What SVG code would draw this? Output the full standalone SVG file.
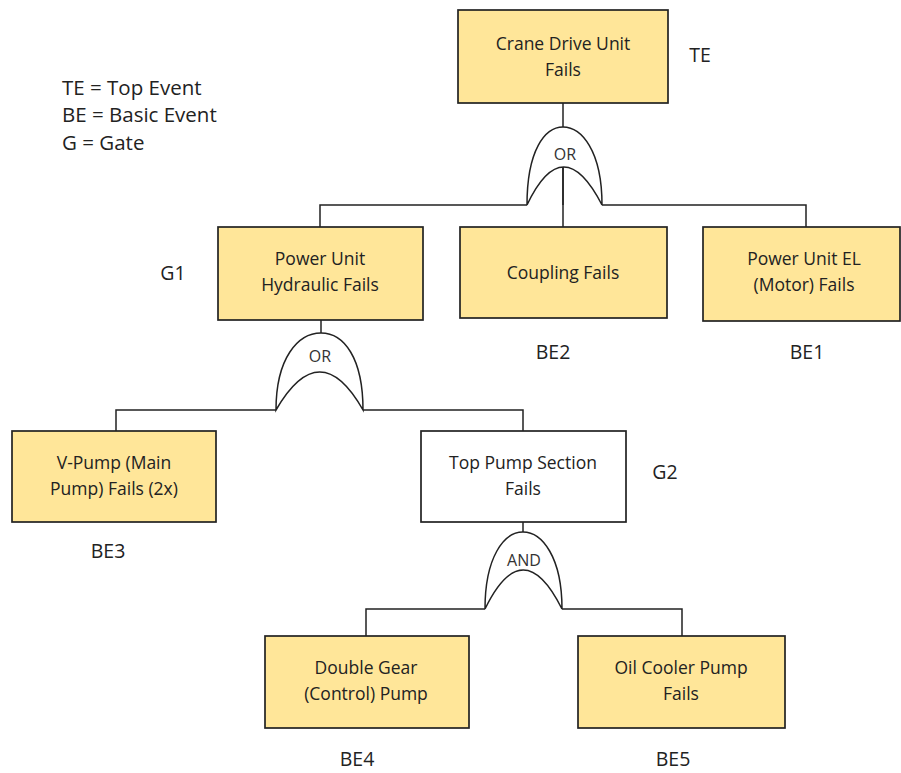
<svg xmlns="http://www.w3.org/2000/svg" width="901" height="773" viewBox="0 0 901 773">
<style>
.be{fill:#FFE699;stroke:#222;stroke-width:1.7}
.wh{fill:#fff;stroke:#222;stroke-width:1.7}
.t{font-family:"Open Sans","Liberation Sans",sans-serif;font-size:17.5px;fill:#222;text-anchor:middle}
.lb{font-family:"Open Sans","Liberation Sans",sans-serif;font-size:20.5px;fill:#222}
.id{font-family:"Open Sans","Liberation Sans",sans-serif;font-size:19.5px;fill:#222;text-anchor:middle}
.g{font-family:"Open Sans","Liberation Sans",sans-serif;font-size:16px;fill:#333;text-anchor:middle}
.ln{fill:none;stroke:#222;stroke-width:1.5}
.gate{fill:#fff;stroke:#222;stroke-width:1.5}
</style>
<rect width="901" height="773" fill="#fff"/>
<g id="legend">
<text class="lb" x="62" y="95">TE = Top Event</text>
<text class="lb" x="62" y="122">BE = Basic Event</text>
<text class="lb" x="62" y="150">G = Gate</text>
</g>
<g id="connectors">
<line class="ln" x1="563" y1="103" x2="563" y2="127"/>
<line class="ln" x1="563" y1="167" x2="563" y2="227"/>
<polyline class="ln" points="320,227 320,205 527,205"/>
<polyline class="ln" points="602,205 806,205 806,227"/>
<line class="ln" x1="321" y1="320" x2="321" y2="333"/>
<polyline class="ln" points="116,431 116,410 276,410"/>
<polyline class="ln" points="363,410 523,410 523,431"/>
<line class="ln" x1="523" y1="522" x2="523" y2="532"/>
<polyline class="ln" points="366,636 366,609 485,609"/>
<polyline class="ln" points="562,609 682,609 682,636"/>
</g>
<g id="gate-or-top">
<path class="gate" d="M527,205 C527,150 545,127 563,127 C581,127 602,150 602,205 Q563,129 527,205 Z"/>
<line class="ln" x1="563" y1="167" x2="563" y2="205"/>
<text class="g" x="565" y="160">OR</text>
</g>
<g id="gate-or-g1">
<path class="gate" d="M276,410 C276,358 298,333 321,333 C344,333 363,358 363,410 Q320,334 276,410 Z"/>
<text class="g" x="320" y="362">OR</text>
</g>
<g id="gate-and-g2">
<path class="gate" d="M485,609 C485,557 504,532 523,532 C542,532 562,557 562,609 Q523,531 485,609 Z"/>
<text class="g" x="524" y="566">AND</text>
</g>
<g id="TE">
<rect class="be" x="458" y="10" width="210" height="93"/>
<text class="t" x="563" y="50">Crane Drive Unit</text>
<text class="t" x="563" y="76">Fails</text>
<text class="id" x="700" y="62">TE</text>
</g>
<g id="G1">
<rect class="be" x="218" y="227" width="205" height="93"/>
<text class="t" x="320" y="265">Power Unit</text>
<text class="t" x="320" y="291">Hydraulic Fails</text>
<text class="id" x="173" y="280">G1</text>
</g>
<g id="BE2">
<rect class="be" x="460" y="227" width="207" height="91"/>
<text class="t" x="563" y="279">Coupling Fails</text>
<text class="id" x="553" y="359">BE2</text>
</g>
<g id="BE1">
<rect class="be" x="703" y="227" width="197" height="94"/>
<text class="t" x="804" y="265">Power Unit EL</text>
<text class="t" x="804" y="291">(Motor) Fails</text>
<text class="id" x="807" y="359">BE1</text>
</g>
<g id="BE3">
<rect class="be" x="12" y="431" width="204" height="91"/>
<text class="t" x="114" y="469">V-Pump (Main</text>
<text class="t" x="114" y="495">Pump) Fails (2x)</text>
<text class="id" x="108" y="558">BE3</text>
</g>
<g id="G2">
<rect class="wh" x="421" y="431" width="205" height="91"/>
<text class="t" x="523" y="469">Top Pump Section</text>
<text class="t" x="523" y="495">Fails</text>
<text class="id" x="665" y="479">G2</text>
</g>
<g id="BE4">
<rect class="be" x="265" y="636" width="204" height="92"/>
<text class="t" x="366" y="674">Double Gear</text>
<text class="t" x="366" y="700">(Control) Pump</text>
<text class="id" x="357" y="766">BE4</text>
</g>
<g id="BE5">
<rect class="be" x="578" y="636" width="207" height="92"/>
<text class="t" x="681" y="674">Oil Cooler Pump</text>
<text class="t" x="681" y="700">Fails</text>
<text class="id" x="673" y="766">BE5</text>
</g>
</svg>
